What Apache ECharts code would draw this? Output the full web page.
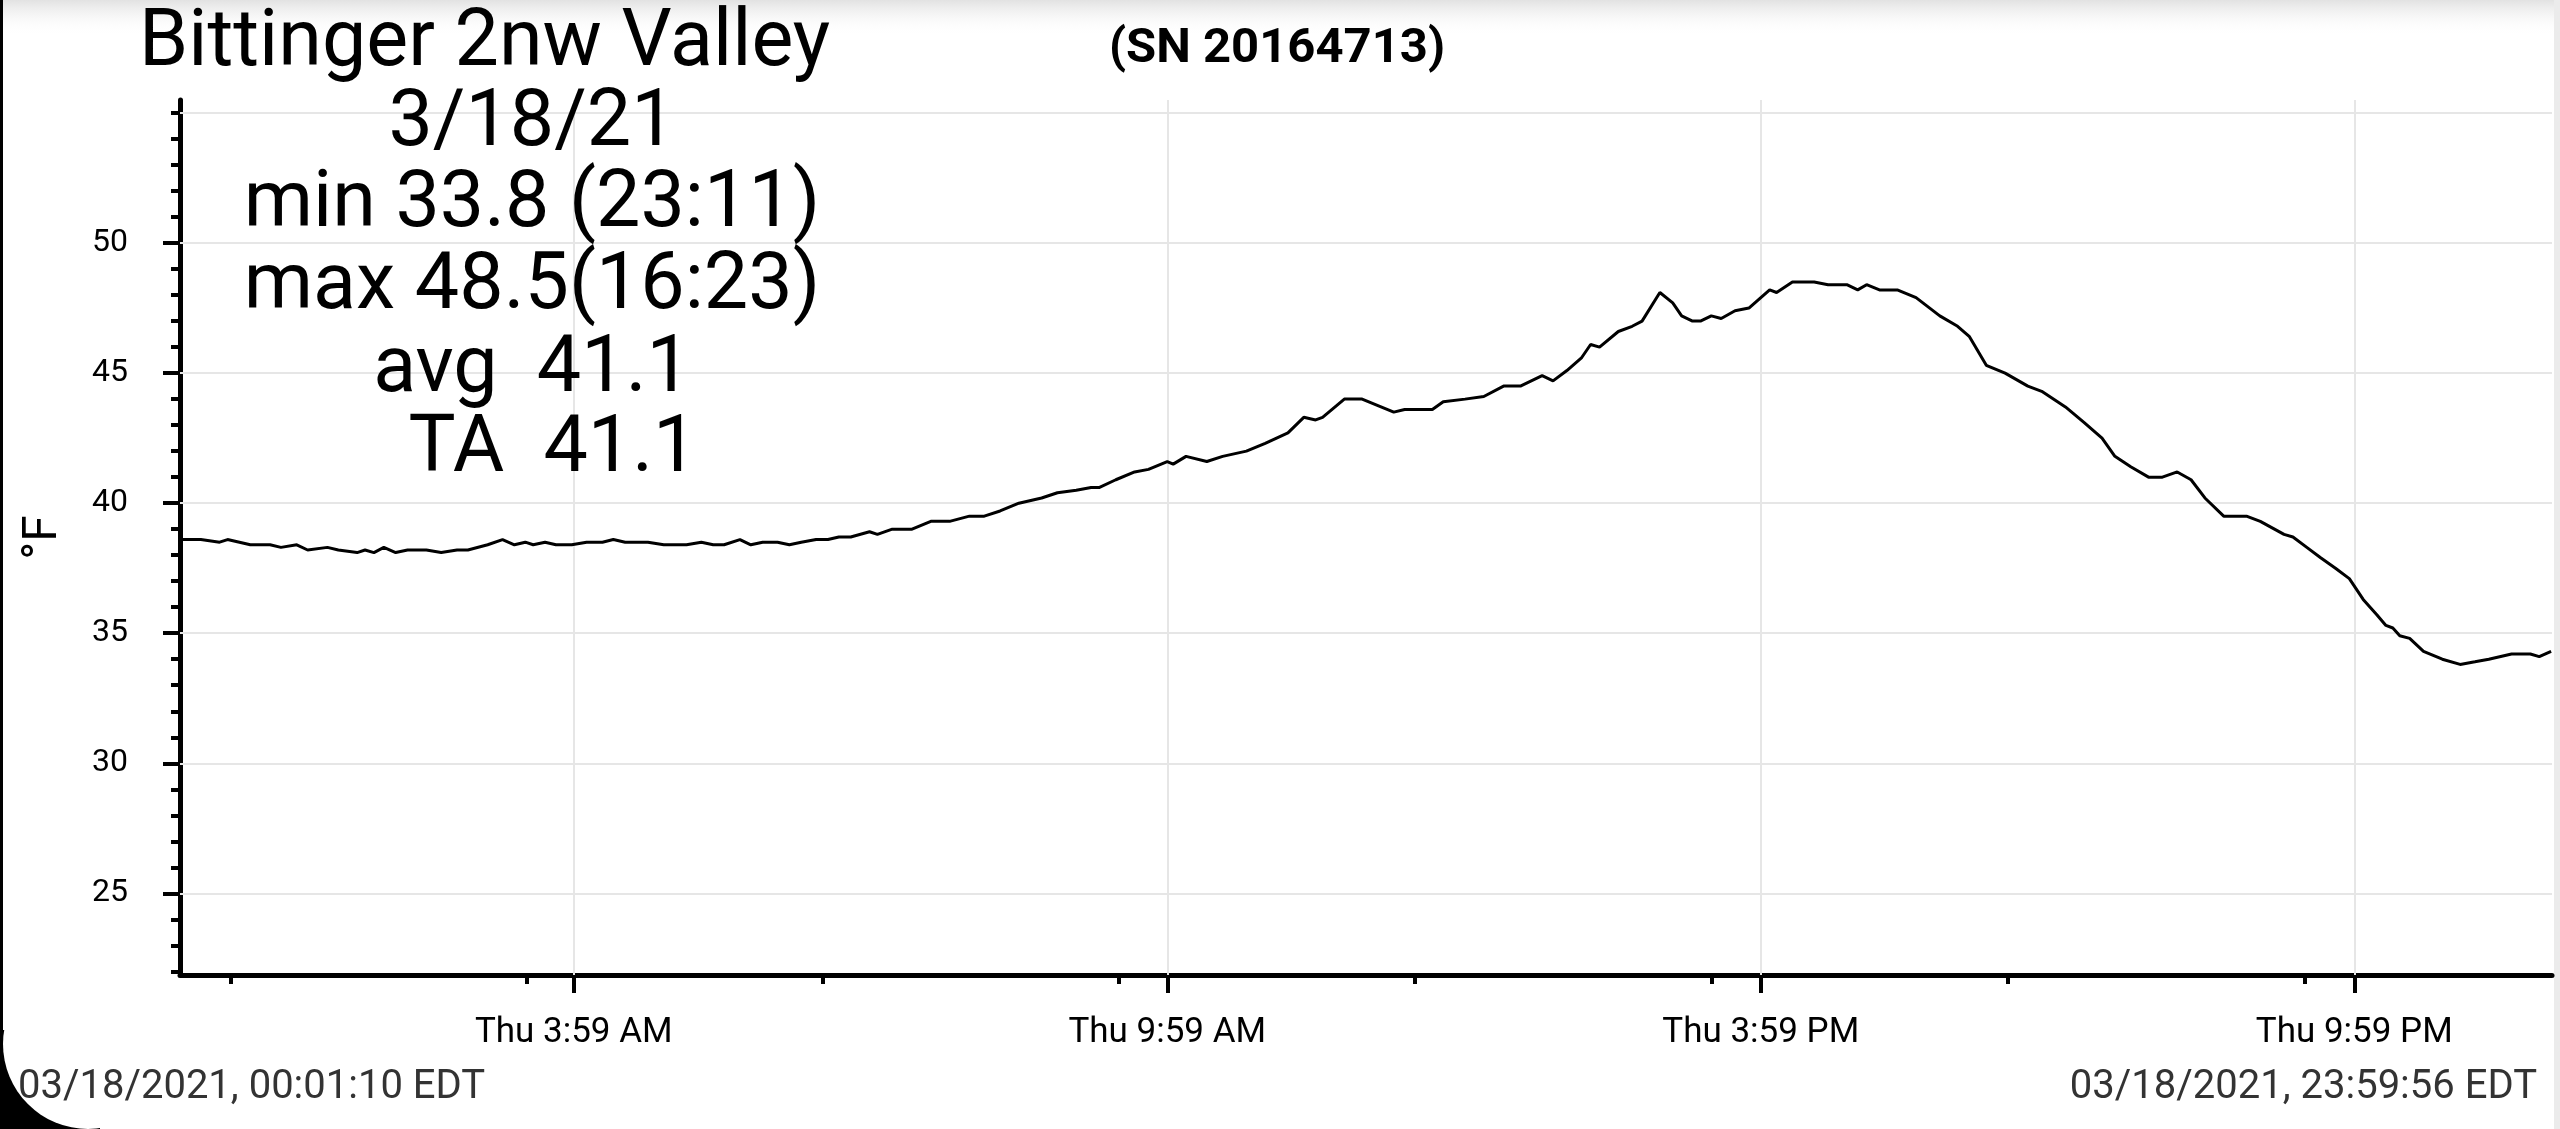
<!DOCTYPE html>
<html>
<head>
<meta charset="utf-8">
<script src="https://cdn.jsdelivr.net/npm/echarts@6/dist/echarts.min.js"></script>
<style>
  html, body { margin: 0; padding: 0; background: #fff; }
  #main { width: 2560px; height: 1129px; }
</style>
</head>
<body>
<div id="main"></div>
<script>
// hours since midnight, 3/18/21
var times = [0.02, 0.11, 0.23, 0.42, 0.50, 0.73, 0.93, 1.04, 1.20, 1.31, 1.51, 1.62, 1.81, 1.89, 1.98,
  2.08, 2.20, 2.32, 2.51, 2.66, 2.82, 2.93, 3.13, 3.28, 3.40, 3.51, 3.59, 3.71, 3.82, 3.98, 4.13, 4.29,
  4.40, 4.52, 4.75, 4.91, 5.14, 5.29, 5.41, 5.52, 5.68, 5.79, 5.91, 6.06, 6.18, 6.30, 6.45, 6.57, 6.68,
  6.80, 6.99, 7.07, 7.22, 7.42, 7.61, 7.80, 8.00, 8.15, 8.31, 8.50, 8.73, 8.89, 9.08, 9.23, 9.31, 9.48,
  9.67, 9.81, 10.00, 10.06, 10.19, 10.40, 10.56, 10.80, 10.99, 11.22, 11.38, 11.50, 11.57, 11.79, 11.97,
  12.29, 12.40, 12.68, 12.79, 13.01, 13.20, 13.40, 13.57, 13.79, 13.90, 14.04, 14.19, 14.28, 14.37,
  14.56, 14.70, 14.80, 14.98, 15.11, 15.20, 15.31, 15.39, 15.50, 15.60, 15.74, 15.88, 16.09, 16.16,
  16.32, 16.40, 16.54, 16.68, 16.77, 16.87, 16.98, 17.07, 17.20, 17.38, 17.57, 17.81, 17.99, 18.11,
  18.28, 18.47, 18.70, 18.84, 19.08, 19.27, 19.45, 19.58, 19.74, 19.92, 20.06, 20.21, 20.35, 20.49,
  20.68, 20.91, 21.05, 21.29, 21.38, 21.52, 21.66, 21.81, 21.95, 22.09, 22.23, 22.32, 22.39, 22.46,
  22.56, 22.70, 22.89, 23.07, 23.22, 23.36, 23.59, 23.78, 23.87, 23.99];
var temps = [38.6, 38.6, 38.6, 38.5, 38.6, 38.4, 38.4, 38.3, 38.4, 38.2, 38.3, 38.2, 38.1, 38.2, 38.1,
  38.3, 38.1, 38.2, 38.2, 38.1, 38.2, 38.2, 38.4, 38.6, 38.4, 38.5, 38.4, 38.5, 38.4, 38.4, 38.5, 38.5,
  38.6, 38.5, 38.5, 38.4, 38.4, 38.5, 38.4, 38.4, 38.6, 38.4, 38.5, 38.5, 38.4, 38.5, 38.6, 38.6, 38.7,
  38.7, 38.9, 38.8, 39.0, 39.0, 39.3, 39.3, 39.5, 39.5, 39.7, 40.0, 40.2, 40.4, 40.5, 40.6, 40.6, 40.9,
  41.2, 41.3, 41.6, 41.5, 41.8, 41.6, 41.8, 42.0, 42.3, 42.7, 43.3, 43.2, 43.3, 44.0, 44.0,
  43.5, 43.6, 43.6, 43.9, 44.0, 44.1, 44.5, 44.5, 44.9, 44.7, 45.1, 45.6, 46.1, 46.0,
  46.6, 46.8, 47.0, 48.1, 47.7, 47.2, 47.0, 47.0, 47.2, 47.1, 47.4, 47.5, 48.2, 48.1,
  48.5, 48.5, 48.5, 48.4, 48.4, 48.4, 48.2, 48.4, 48.2, 48.2, 47.9, 47.2, 46.8, 46.4,
  45.3, 45.0, 44.5, 44.3, 43.7, 43.1, 42.5, 41.8, 41.4, 41.0, 41.0, 41.2, 40.9, 40.2,
  39.5, 39.5, 39.3, 38.8, 38.7, 38.3, 37.9, 37.5, 37.1, 36.3, 35.7, 35.3, 35.2, 34.9,
  34.8, 34.3, 34.0, 33.8, 33.9, 34.0, 34.2, 34.2, 34.1, 34.3];

var xMin = 1 / 60 + 10 / 3600;          // 00:01:10
var xMax = 23 + 59 / 60 + 56 / 3600;    // 23:59:56
var xTickValues = [4, 10, 16, 22];
var xTickLabels = ['Thu 3:59 AM', 'Thu 9:59 AM', 'Thu 3:59 PM', 'Thu 9:59 PM'];
var xMinorTicks = [0.53, 3.52, 6.52, 9.51, 12.5, 15.5, 18.5, 21.5];

var yMin = 21.86, yMax = 55.5;
var yTickValues = [25, 30, 35, 40, 45, 50];
var yGridValues = [25, 30, 35, 40, 45, 50, 55];
var yMinorTicks = [22, 23, 24, 26, 27, 28, 29, 31, 32, 33, 34, 36, 37, 38, 39, 41, 42, 43, 44,
  46, 47, 48, 49, 51, 52, 53, 54, 55];

var titleText = 'Bittinger 2nw Valley';
var serialText = '(SN 20164713)';
var statLines = ['3/18/21', 'min 33.8 (23:11)', 'max 48.5(16:23)', 'avg  41.1', 'TA  41.1'];
var startText = '03/18/2021, 00:01:10 EDT';
var endText = '03/18/2021, 23:59:56 EDT';

var points = [];
for (var i = 0; i < times.length; i++) {
  points.push([times[i], temps[i]]);
}

var gridMarks = [];
yGridValues.forEach(function (v) { gridMarks.push({ yAxis: v }); });
xTickValues.forEach(function (v) { gridMarks.push({ xAxis: v }); });

var font = 'Roboto';
var statX = [532, 532, 532, 532, 553];
var statY = [125, 206, 288, 371, 451];

var graphics = [
  { type: 'rect', z: 0, shape: { x: 0, y: 0, width: 2560, height: 36 },
    style: { fill: new echarts.graphic.LinearGradient(0, 0, 0, 1, [
      { offset: 0, color: '#e2e2e2' }, { offset: 1, color: 'rgba(255,255,255,0)' }]) } },
  { type: 'rect', z: 0, shape: { x: 2554, y: 0, width: 6, height: 1129 }, style: { fill: '#ebebeb' } },
  { type: 'rect', z: 0, shape: { x: 0, y: 0, width: 3, height: 1129 }, style: { fill: '#000' } },
  { type: 'rect', z: 0, shape: { x: 0, y: 1030, width: 100, height: 99 }, style: { fill: '#000' } },
  { type: 'circle', z: 0, shape: { cx: 88, cy: 1044, r: 85 }, style: { fill: '#fff' } },
  { type: 'text', z: 100, x: 139, y: 45,
    style: { text: titleText, fontSize: 79, fontFamily: font, fill: '#000', align: 'left', verticalAlign: 'middle' } },
  { type: 'text', z: 100, x: 1277, y: 50,
    style: { text: serialText, fontSize: 49, fontWeight: 'bold', fontFamily: font, fill: '#000', align: 'center', verticalAlign: 'middle' } },
  { type: 'text', z: 100, x: 18, y: 1088,
    style: { text: startText, fontSize: 40, fontFamily: font, fill: '#333', align: 'left', verticalAlign: 'middle' } },
  { type: 'text', z: 100, x: 2537, y: 1088,
    style: { text: endText, fontSize: 40, fontFamily: font, fill: '#333', align: 'right', verticalAlign: 'middle' } }
];
statLines.forEach(function (s, i) {
  graphics.push({ type: 'text', z: 100, x: statX[i], y: statY[i],
    style: { text: s, fontSize: 79, fontFamily: font, fill: '#000', align: 'center', verticalAlign: 'middle' } });
});

var dom = document.getElementById('main');
var myChart = echarts.init(dom);
var option = {
  animation: false,
  backgroundColor: '#fff',
  textStyle: { fontFamily: font },
  grid: { left: 180, right: 8, top: 100, bottom: 154 },
  xAxis: [{
    type: 'value', min: xMin, max: xMax,
    axisLine: { show: true, onZero: false, lineStyle: { color: '#000', width: 5 } },
    axisTick: { show: true, customValues: xTickValues, length: 18, lineStyle: { color: '#000', width: 4 } },
    axisLabel: {
      customValues: xTickValues, margin: 41, fontSize: 35, color: '#000', fontFamily: font,
      formatter: function (v) {
        for (var k = 0; k < xTickValues.length; k++) {
          if (Math.abs(v - xTickValues[k]) < 1e-6) return xTickLabels[k];
        }
        return '';
      }
    },
    splitLine: { show: false }
  }, {
    type: 'value', min: xMin, max: xMax, position: 'bottom',
    axisLine: { show: false, onZero: false },
    axisTick: { show: true, customValues: xMinorTicks, length: 9, lineStyle: { color: '#000', width: 4 } },
    axisLabel: { show: false },
    splitLine: { show: false }
  }],
  yAxis: [{
    type: 'value', min: yMin, max: yMax,
    name: '°F', nameLocation: 'middle', nameGap: 112, nameRotate: 90,
    nameTextStyle: { fontSize: 48, color: '#000', fontFamily: font },
    axisLine: { show: true, onZero: false, lineStyle: { color: '#000', width: 5 } },
    axisTick: { show: true, customValues: yTickValues, length: 17, lineStyle: { color: '#000', width: 4 } },
    axisLabel: { customValues: yTickValues, margin: 52, fontSize: 32, color: '#000', fontFamily: font },
    splitLine: { show: false }
  }, {
    type: 'value', min: yMin, max: yMax, position: 'left',
    axisLine: { show: false, onZero: false },
    axisTick: { show: true, customValues: yMinorTicks, length: 9, lineStyle: { color: '#000', width: 4 } },
    axisLabel: { show: false },
    splitLine: { show: false }
  }],
  series: [{
    name: 'grid',
    type: 'line',
    z: 1,
    data: points,
    showSymbol: false,
    symbol: 'none',
    silent: true,
    lineStyle: { opacity: 0 },
    markLine: {
      z: 1,
      silent: true,
      symbol: ['none', 'none'],
      label: { show: false },
      lineStyle: { color: '#e6e6e6', width: 2, type: 'solid' },
      data: gridMarks
    }
  }, {
    name: 'Temperature',
    type: 'line',
    z: 10,
    data: points,
    showSymbol: false,
    symbol: 'none',
    lineStyle: { color: '#000', width: 3 }
  }],
  graphic: graphics
};

if (option && typeof option === 'object') {
  myChart.setOption(option, true);
}
</script>
</body>
</html>
